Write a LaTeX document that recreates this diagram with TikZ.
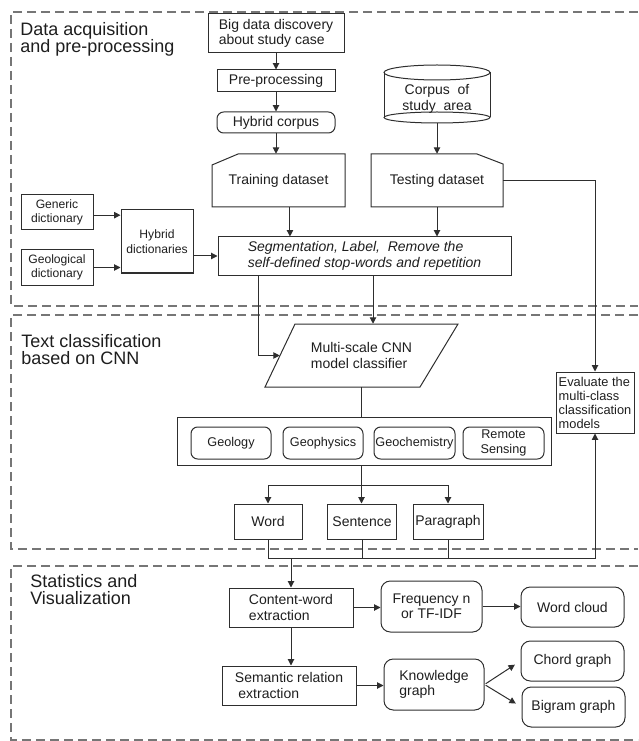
\documentclass[tikz,border=0pt]{standalone}
\usepackage{fontspec}
\setmainfont{Liberation Sans}
\usetikzlibrary{arrows.meta,calc}
\definecolor{lnc}{HTML}{2E2E2E}
\definecolor{dshc}{HTML}{767676}
\definecolor{txc}{HTML}{1E1E1E}
\begin{document}
\begin{tikzpicture}[x=0.75pt,y=-0.75pt,
  every node/.style={text=txc, inner sep=0pt, font=\fontsize{10.5}{11.5}\selectfont},
  wh/.style 2 args={minimum width={#1*0.75pt}, minimum height={#2*0.75pt}},
  bx/.style={draw=lnc, line width=0.75pt, align=center},
  rbx/.style={bx, rounded corners=5pt},
  sm/.style={font=\fontsize{9.1}{10.8}\selectfont},
  catf/.style={font=\fontsize{9.5}{11}\selectfont},
  ttl/.style={font=\fontsize{13.5}{12.8}\selectfont, align=left, anchor=north west},
  wire/.style={draw=lnc, line width=0.75pt},
  arr/.style={wire, -{Triangle[length=4.8pt,width=4.8pt]}},
  region/.style={draw=dshc, line width=0.8pt, dash pattern=on 6.5pt off 4pt},
  ]
\useasboundingbox (0,0) rectangle (638,741);

% regions
\draw[region] (638,12) -- (11,12) -- (11,306) -- (638,306);
\draw[region] (638,315) -- (11,315) -- (11,549) -- (638,549);
\draw[region] (638,566) -- (11,566) -- (11,740) -- (638,740);
\node[ttl] (t1) at (20,22) {Data acquisition\\and pre-processing};
\node[ttl] (t2) at (21,334) {Text classification\\based on CNN};
\node[ttl] (t3) at (30,574) {Statistics and\\Visualization};

% top column
\node[bx, wh={136}{39}, align=left] (big) at (276,33.5) {Big data discovery\\about study case};
\node[bx, wh={118}{22}] (pre) at (276,81) {Pre-processing};
\node[rbx, wh={118}{21}] (hcorp) at (276,122.5) {Hybrid corpus};
\node[wh={133}{53}] (train) at (278.5,180.5) {Training dataset};
\draw[wire] (212,165) -- (238,154) -- (345,154) -- (345,207) -- (212,207) -- cycle;
\draw[arr] (big) -- (pre);
\draw[arr] (pre) -- (hcorp);
\draw[arr] (hcorp.south) -- (hcorp.south |- train.north);

% corpus cylinder
\draw[wire] (384,72.5) -- (384,117.5);
\draw[wire] (490,72.5) -- (490,117.5);
\draw[wire] (437,117.5) ellipse [x radius=53, y radius=5.5];
\draw[wire] (437,72.5) ellipse [x radius=53, y radius=7.5];
\node[wh={106}{58}] (corpus) at (437,94) {};
\node[align=center] (corpust) at (437,99) {Corpus\ \ of\\study\ \ area};
\node[wh={132}{53}] (test) at (437,180.5) {Testing dataset};
\draw[wire] (371,154) -- (477,154) -- (503,164) -- (503,207) -- (371,207) -- cycle;
\draw[arr] (corpus.south) -- (test.north);

% dictionaries
\node[bx, sm, wh={72}{35}] (gen) at (57,212.5) {Generic\\dictionary};
\node[bx, sm, wh={72}{35}] (geo) at (57,267.5) {Geological\\dictionary};
\node[bx, sm, wh={72}{63}] (hdict) at (157,241.5) {Hybrid\\dictionaries};
\draw[arr] ([yshift=-2pt]gen.east) -- ([yshift=-2pt]gen.east -| hdict.west);
\draw[arr] (geo.east) -- (geo.east -| hdict.west);

% segmentation
\node[bx, wh={293}{38}, align=left, font=\fontsize{10.5}{11.5}\selectfont\itshape] (seg) at (364.5,256) {Segmentation, Label,\ \ Remove the\\self-defined stop-words and repetition};
\draw[arr] (hdict.east |- seg.west) -- (seg.west);
\draw[arr] ([xshift=8.6pt]train.south) -- ([xshift=8.6pt]train.south |- seg.north);
\draw[arr] (test.south) -- (test.south |- seg.north);

% evaluate
\node[bx, wh={78}{61}, align=left, font=\fontsize{9.6}{10.5}\selectfont] (eval) at (595,402.5) {Evaluate the\\multi-class\\classification\\models};
\draw[arr] (test.east) -| (eval.north);

% CNN classifier
\node[wh={163}{63}, align=left] (cnn) at (361.5,355.5) {Multi-scale CNN\\model classifier};
\draw[wire] (295,324) -- (458,324) -- (420,387) -- (265,387) -- cycle;
\draw[arr] (258,0 |- seg.south) -- (258,0 |- cnn.west) -- (cnn.west);
\draw[arr] (373,0 |- seg.south) -- (373,0 |- cnn.north);

% categories
\node[bx, wh={374}{48}] (cat) at (364,441) {};
\node[rbx, catf, wh={80}{32}] (geol) at (231,443) {Geology};
\node[rbx, catf, wh={80}{32}] (geoph) at (323,443) {Geophysics};
\node[rbx, catf, wh={81}{32}] (geoch) at (414.5,443) {Geochemistry};
\node[rbx, catf, wh={81}{32}] (remote) at (503.5,443) {Remote\\Sensing};
\draw[wire] (cnn.south) -- (cnn.south |- cat.north);

% granularity
\node[bx, wh={68}{35}] (word) at (268,521.5) {Word};
\node[bx, wh={69}{35}] (sent) at (362,521.5) {Sentence};
\node[bx, wh={70}{35}] (para) at (448,521.5) {Paragraph};
\draw[arr] (cnn.south |- cat.south) -- (cnn.south |- sent.north);
\draw[arr] (cnn.south |- 0,485) -| (word.north);
\draw[arr] (cnn.south |- 0,485) -| (para.north);
\draw[arr] (word.south) -- (word.south |- 0,558) -| (eval.south);
\draw[wire] (sent.south) -- (sent.south |- 0,558);
\draw[wire] (para.south) -- (para.south |- 0,558);

% statistics
\node[bx, wh={124}{39}, align=left] (content) at (291,607.5) {Content-word\\extraction};
\node[bx, wh={134}{39}, align=left] (sem) at (289,685.5) {Semantic relation\\\hspace{0.25em}extraction};
\node[rbx, rounded corners=7pt, wh={101}{51}] (freq) at (431.5,606.5) {Frequency n\\or TF-IDF};
\node[rbx, rounded corners=7pt, wh={103}{40}] (wcloud) at (572.5,607) {Word cloud};
\node[rbx, rounded corners=7pt, wh={100}{51}, align=left] (know) at (434,684.5) {Knowledge\\graph};
\node[rbx, rounded corners=7pt, wh={103}{40}] (chord) at (572.5,661) {Chord graph};
\node[rbx, rounded corners=7pt, wh={103}{40}] (bigram) at (573.5,707) {Bigram graph};
\draw[arr] (content.north |- 0,558) -- (content.north);
\draw[arr] (content.south) -- (content.south |- sem.north);
\draw[arr] (content.east) -- (content.east -| freq.west);
\draw[arr] (freq.east) -- (freq.east -| wcloud.west);
\draw[arr] (sem.east) -- (sem.east -| know.west);
\draw[arr, shorten <=1pt, shorten >=5pt] (know.east) -- (chord.west);
\draw[arr, shorten <=1pt, shorten >=5pt] (know.east) -- (bigram.west);
\end{tikzpicture}
\end{document}
